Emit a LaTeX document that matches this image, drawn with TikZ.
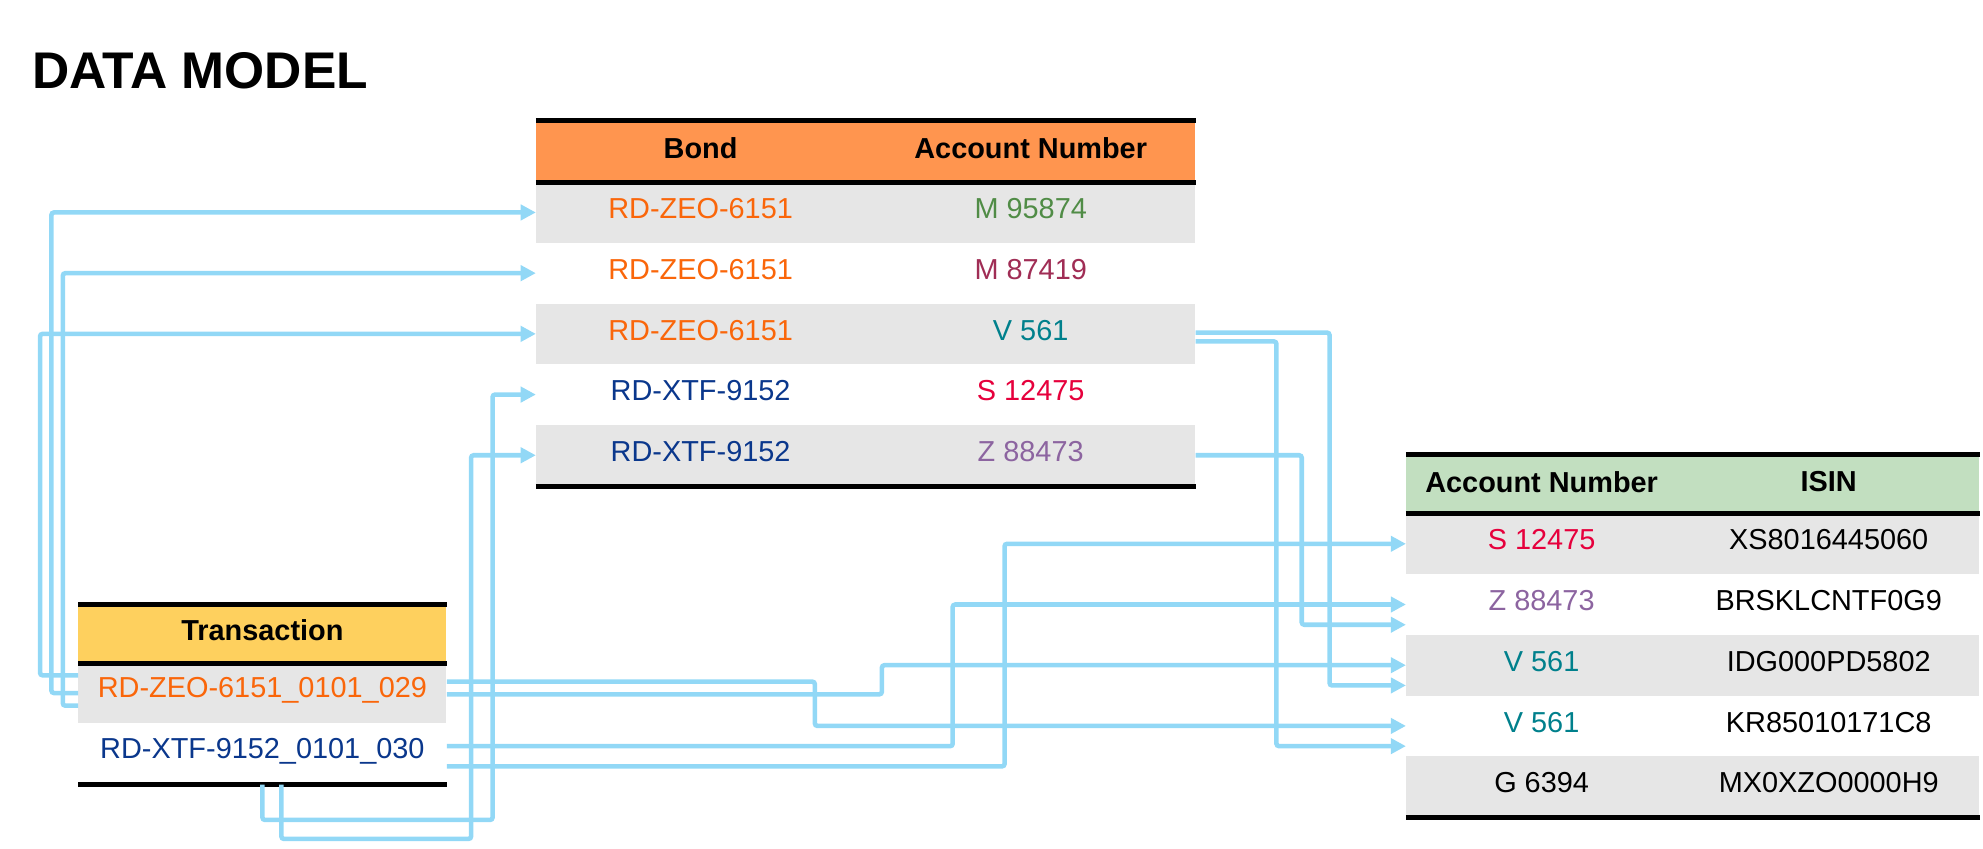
\documentclass[tikz,border=0pt]{standalone}
\usepackage{fontspec}
\setmainfont{Liberation Sans}
\usetikzlibrary{calc, arrows.meta}

\definecolor{linkblue}{RGB}{146,216,246}
\definecolor{rowgray}{RGB}{230,230,230}
\definecolor{bondhead}{RGB}{255,149,79}
\definecolor{transhead}{RGB}{254,208,94}
\definecolor{isinhead}{RGB}{194,223,192}
\definecolor{zeo}{RGB}{250,102,10}
\definecolor{xtf}{RGB}{10,55,140}
\definecolor{accm}{RGB}{80,140,70}
\definecolor{accmm}{RGB}{160,45,85}
\definecolor{accv}{RGB}{0,128,140}
\definecolor{accs}{RGB}{230,0,60}
\definecolor{accz}{RGB}{140,100,160}

\begin{document}
\begin{tikzpicture}[x=0.02cm, y=-0.02cm,
every node/.style = {inner sep=0pt, font=\fontsize{13}{15}\selectfont},
cellrow/.style = {minimum height=0.96cm},
headtext/.style = {font=\bfseries\fontsize{13}{15}\selectfont},
rule/.style = {line width=0.08cm},
link/.style = {draw=linkblue, line width=0.072cm, rounded corners=0.04cm,
    -{Triangle[length=0.24cm, width=0.24cm]}}]
\useasboundingbox (0,0) rectangle (1568,671);

\node[anchor=base west, font=\bfseries\fontsize{23.2}{26}\selectfont] (title) at (25,70) {DATA MODEL};

% bond table
\node[fill=bondhead, minimum width=10.42cm, minimum height=0.96cm] (bhead) at (684.5,120) {};
\node[headtext] (bheadn) at (554,117) {Bond};
\node[headtext] (bheada) at (815,117) {Account Number};
\foreach \i/\fc/\bond/\bc/\acc/\ac in {1/rowgray/RD-ZEO-6151/zeo/M 95874/accm,
    2/white/RD-ZEO-6151/zeo/M 87419/accmm, 3/rowgray/RD-ZEO-6151/zeo/V 561/accv,
    4/white/RD-XTF-9152/xtf/S 12475/accs, 5/rowgray/RD-XTF-9152/xtf/Z 88473/accz}
{
  \node[cellrow, fill=\fc, minimum width=10.42cm] (b\i) at (684.5,{120+48*\i}) {};
  \node[text=\bc] (b\i n) at ($(b\i.center)+(-130.5,-3)$) {\bond};
  \node[text=\ac] (b\i a) at ($(b\i.center)+(130.5,-3)$) {\acc};
}
\draw[rule] (bhead.north west) -- (bhead.north east);
\draw[rule] (bhead.south west) -- (bhead.south east);
\draw[rule] (b5.south west) -- (b5.south east);

% transaction table
\node[fill=transhead, minimum width=5.82cm, minimum height=0.92cm] (thead) at (207.5,501) {};
\node[headtext] (theadn) at (207.5,498) {Transaction};
\node[cellrow, fill=rowgray, minimum width=5.82cm] (t1) at (207.5,548) {};
\node[cellrow, minimum width=5.82cm] (t2) at (207.5,596) {};
\node[text=zeo] (t1n) at ($(t1.center)+(0,-2)$) {RD-ZEO-6151\_0101\_029};
\node[text=xtf] (t2n) at ($(t2.center)+(0,-2)$) {RD-XTF-9152\_0101\_030};
\draw[rule] (thead.north west) -- (thead.north east);
\draw[rule] (thead.south west) -- (thead.south east);
\draw[rule] (t2.south west) -- (t2.south east);

% isin table
\node[fill=isinhead, minimum width=9.06cm, minimum height=0.92cm] (rhead) at (1338.5,383) {};
\node[headtext] (rheada) at (1219,381) {Account Number};
\node[headtext] (rheadi) at (1446,381) {ISIN};
\foreach \i/\fc/\acc/\ac/\isin in {1/rowgray/S 12475/accs/XS8016445060,
    2/white/Z 88473/accz/BRSKLCNTF0G9, 3/rowgray/V 561/accv/IDG000PD5802,
    4/white/V 561/accv/KR85010171C8, 5/rowgray/G 6394/black/MX0XZO0000H9}
{
  \node[cellrow, fill=\fc, minimum width=9.06cm] (r\i) at (1338.5,{382+48*\i}) {};
  \node[text=\ac] (r\i a) at (1219,{379+48*\i}) {\acc};
  \node (r\i i) at (1446,{379+48*\i}) {\isin};
}
\draw[rule] (rhead.north west) -- (rhead.north east);
\draw[rule] (rhead.south west) -- (rhead.south east);
\draw[rule] (r5.south west) -- (r5.south east);

% transaction -> bond
\draw[link] ($(t1.west)+(0,-14)$) -- ++(-30,0) |- (b3.west);
\draw[link] (t1.west) -- ++(-21,0) |- (b1.west);
\draw[link] ($(t1.west)+(0,10)$) -- ++(-12,0) |- (b2.west);
\draw[link] (t2.south) -- ++(0,28) -- ++(182,0) |- (b4.west);
\draw[link] ($(t2.south)+(15,0)$) -- ++(0,43) -- ++(150,0) |- (b5.west);

% transaction -> isin
\draw[link] ($(t1.east)+(0,-9)$) -- ++(291,0) |- (r4.west);
\draw[link] ($(t1.east)+(0,1)$) -- ++(344,0) |- (r3.west);
\draw[link] ($(t2.east)+(0,-6)$) -- ++(400,0) |- (r2.west);
\draw[link] ($(t2.east)+(0,10)$) -- ++(441,0) |- (r1.west);

% bond -> isin
\draw[link] ($(b3.east)+(0,-1)$) -- ++(106,0) |- ($(r3.west)+(0,16)$);
\draw[link] ($(b3.east)+(0,6)$) -- ++(64,0) |- ($(r4.west)+(0,16)$);
\draw[link] (b5.east) -- ++(84,0) |- ($(r2.west)+(0,16)$);
\end{tikzpicture}
\end{document}
